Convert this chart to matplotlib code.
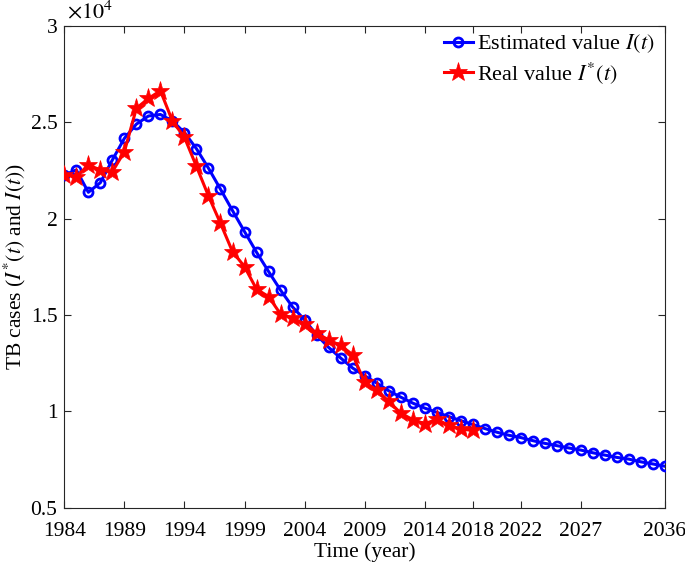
import matplotlib
matplotlib.use("Agg")
import matplotlib.pyplot as plt
from matplotlib.ticker import FuncFormatter, FixedLocator

plt.rcParams['font.family'] = ['Liberation Serif', 'DejaVu Serif']
plt.rcParams['mathtext.fontset'] = 'stix'

# Estimated value I(t), 1984-2034 (cases)
est_years = list(range(1984, 2035))
est_values = [22270, 22530, 21370, 21870, 23050, 24170, 24910, 25330, 25410, 25070,
              24470, 23630, 22620, 21530, 20420, 19330, 18260, 17260, 16290, 15420,
              14750, 13970, 13320, 12770, 12250, 11850, 11470, 11070, 10740, 10430,
              10170, 9950, 9730, 9520, 9320, 9110, 8920, 8760, 8640, 8480,
              8340, 8220, 8100, 7990, 7850, 7730, 7610, 7520, 7380, 7270,
              7150]

# Real value I*(t), 1984-2018 (cases)
real_years = list(range(1984, 2019))
real_values = [22270, 22180, 22790, 22530, 22440, 23480, 25730, 26240, 26640, 25070,
               24220, 22710, 21180, 19760, 18290, 17510, 16340, 15960, 15050, 14840,
               14540, 14060, 13710, 13420, 12940, 11500, 11120, 10520, 9910, 9570,
               9360, 9580, 9280, 9060, 9030]

tick_pos = [1984, 1989, 1994, 1999, 2004, 2009, 2014, 2018, 2022, 2027, 2034]
tick_labels = ['1984', '1989', '1994', '1999', '2004', '2009', '2014', '2018', '2022', '2027', '2036']
y_ticks = [5000, 10000, 15000, 20000, 25000, 30000]

fig = plt.figure(figsize=(6.85, 5.66), dpi=100)
ax = fig.add_axes([0.0939, 0.103, 0.9708 - 0.0939, 0.954 - 0.103])

ax.plot(est_years, est_values, color='#0000ff', lw=2.2, marker='o', ms=6.5,
        mfc='none', mec='#0000ff', mew=2.0, label='Estimated value $I(t)$', zorder=3)
ax.plot(real_years, real_values, color='#ff0000', lw=2.2, marker='*', ms=14,
        mfc='#ff0000', mec='#ff0000', mew=0.5, label='Real value $I^{*}(t)$', zorder=4)

ax.set_xlim(1984, 2034)
ax.set_ylim(5000, 30000)
ax.xaxis.set_major_locator(FixedLocator(tick_pos))
ax.set_xticklabels(tick_labels)
ax.yaxis.set_major_locator(FixedLocator(y_ticks))
ax.yaxis.set_major_formatter(FuncFormatter(lambda v, p: f"{v/1e4:g}"))

spine_col = '#262626'
for s in ax.spines.values():
    s.set_color(spine_col)
    s.set_linewidth(0.8)
ax.tick_params(direction='in', top=True, right=True, length=5, width=0.8,
               colors=spine_col, labelsize=15.5, labelcolor='black')
ax.tick_params(axis='x', pad=10)
ax.tick_params(axis='y', pad=5)

ax.text(0.004, 1.006, r'$\times 10^{4}$', transform=ax.transAxes, fontsize=16,
        ha='left', va='bottom')

ax.set_xlabel('Time (year)', fontsize=15.5, labelpad=1)
ax.set_ylabel(r'TB cases ($I^{*}(t)$ and $I(t)$)', fontsize=15.5, labelpad=2)

leg = ax.legend(loc='upper right', frameon=False, fontsize=16, handlelength=1.3,
                handletextpad=0.2, borderaxespad=0.0, labelspacing=0.2,
                bbox_to_anchor=(0.998, 1.005))

fig.savefig('out.png', dpi=100)
